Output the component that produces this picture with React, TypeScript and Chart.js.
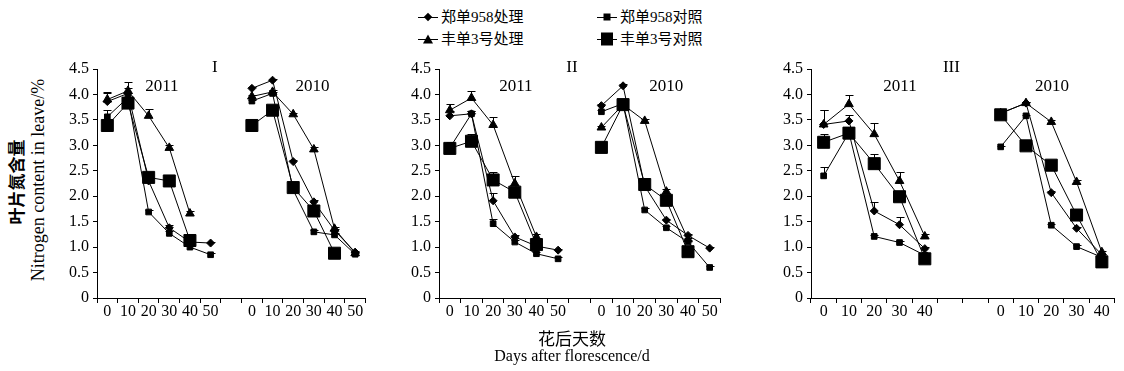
import React, { useEffect, useRef } from 'react';
import { Chart, registerables } from 'chart.js';

Chart.register(...registerables);

// ---------- data ----------
const seriesNames = ['郑单958处理', '郑单958对照', '丰单3号处理', '丰单3号对照'];
const xLabelsSix = ['0', '10', '20', '30', '40', '50', '', '0', '10', '20', '30', '40', '50'];
const xLabelsFive = ['0', '10', '20', '30', '40', '', '', '0', '10', '20', '30', '40'];
const yMin = 0;
const yMax = 4.5;
const yStep = 0.5;

// Panel I
const p1Zd958T = [3.86, 4.02, 2.30, 1.38, 1.10, 1.08, null, 4.12, 4.28, 2.68, 1.89, 1.33, 0.90];
const p1Zd958C = [3.56, 3.94, 1.69, 1.27, 1.00, 0.85, null, 3.87, 4.02, 2.12, 1.30, 1.24, 0.86];
const p1Fd3T = [3.90, 4.07, 3.58, 2.95, 1.66, null, null, 3.96, 4.05, 3.61, 2.92, 1.36, 0.88];
const p1Fd3C = [3.39, 3.83, 2.37, 2.30, 1.13, null, null, 3.39, 3.69, 2.17, 1.71, 0.88, null];
const p1Zd958TErr = [0.17, 0.10, 0.05, 0.05, 0.03, 0.03, null, 0.03, 0.02, 0.03, 0.03, 0.03, 0.02];
const p1Zd958CErr = [0.14, 0.08, 0.04, 0.04, 0.03, 0.03, null, 0.03, 0.03, 0.03, 0.03, 0.03, 0.03];
const p1Fd3TErr = [0.14, 0.18, 0.13, 0.05, 0.05, null, null, 0.03, 0.03, 0.03, 0.04, 0.03, 0.03];
const p1Fd3CErr = [0.10, 0.10, 0.05, 0.05, 0.05, null, null, 0.03, 0.04, 0.04, 0.04, 0.03, null];

// Panel II
const p2Zd958T = [3.58, 3.62, 1.91, 1.20, 1.02, 0.94, null, 3.78, 4.17, 2.20, 1.53, 1.23, 0.98];
const p2Zd958C = [2.95, 3.62, 1.46, 1.10, 0.87, 0.77, null, 3.66, 3.82, 1.73, 1.38, 1.10, 0.60];
const p2Fd3T = [3.69, 3.93, 3.40, 2.25, 1.20, null, null, 3.35, 3.80, 3.48, 2.09, 1.15, null];
const p2Fd3C = [2.94, 3.08, 2.32, 2.08, 1.05, null, null, 2.96, 3.80, 2.23, 1.92, 0.91, null];
const p2Zd958TErr = [0.10, 0.05, 0.15, 0.03, 0.03, 0.03, null, 0.03, 0.03, 0.03, 0.03, 0.03, 0.03];
const p2Zd958CErr = [0.05, 0.05, 0.10, 0.03, 0.03, 0.03, null, 0.03, 0.03, 0.03, 0.03, 0.03, 0.03];
const p2Fd3TErr = [0.12, 0.14, 0.15, 0.15, 0.05, null, null, 0.03, 0.03, 0.03, 0.05, 0.03, null];
const p2Fd3CErr = [0.12, 0.15, 0.15, 0.05, 0.05, null, null, 0.03, 0.03, 0.03, 0.05, 0.03, null];

// Panel III
const p3Zd958T = [3.41, 3.48, 1.71, 1.44, 0.97, null, null, 3.63, 3.83, 2.07, 1.37, 0.85];
const p3Zd958C = [2.40, 3.25, 1.21, 1.09, 0.84, null, null, 2.97, 3.58, 1.43, 1.01, 0.80];
const p3Fd3T = [3.41, 3.81, 3.22, 2.30, 1.21, null, null, 3.63, 3.83, 3.46, 2.28, 0.90];
const p3Fd3C = [3.06, 3.24, 2.64, 1.99, 0.77, null, null, 3.60, 2.99, 2.61, 1.63, 0.71];
const p3Zd958TErr = [0.28, 0.12, 0.18, 0.15, 0.03, null, null, 0.02, 0.02, 0.03, 0.03, 0.02];
const p3Zd958CErr = [0.17, 0.10, 0.03, 0.03, 0.03, null, null, 0.02, 0.02, 0.03, 0.03, 0.02];
const p3Fd3TErr = [0.28, 0.17, 0.22, 0.17, 0.05, null, null, 0.02, 0.03, 0.03, 0.03, 0.02];
const p3Fd3CErr = [0.17, 0.10, 0.19, 0.05, 0.03, null, null, 0.02, 0.02, 0.03, 0.05, 0.02];

// ---------- styling ----------
const SERIF = '"Liberation Serif", "Times New Roman", "Noto Sans CJK SC", serif';
const markerStyles = [
  { pointStyle: 'rectRot', radius: 4 },
  { pointStyle: 'rect', radius: 4 },
  { pointStyle: 'triangle', radius: 5 },
  { pointStyle: 'rect', radius: 8.5 },
];

type Note = { text: string; at: number; row: number };
type Panel = {
  left: number;
  width: number;
  yAxisWidth: number;
  padRight: number;
  labels: string[];
  series: (number | null)[][];
  errors: (number | null)[][];
  notes: Note[];
};

const TOP = 55;
const HEIGHT = 280;
const PAD_TOP = 14;
const X_AXIS_H = 37;

const panels: Panel[] = [
  {
    left: 50, width: 325, yAxisWidth: 47, padRight: 6,
    labels: xLabelsSix,
    series: [p1Zd958T, p1Zd958C, p1Fd3T, p1Fd3C],
    errors: [p1Zd958TErr, p1Zd958CErr, p1Fd3TErr, p1Fd3CErr],
    notes: [
      { text: 'I', at: 5.21, row: 0 },
      { text: '2011', at: 2.64, row: 1 },
      { text: '2010', at: 9.93, row: 1 },
    ],
  },
  {
    left: 395, width: 335, yAxisWidth: 44, padRight: 5,
    labels: xLabelsSix,
    series: [p2Zd958T, p2Zd958C, p2Fd3T, p2Fd3C],
    errors: [p2Zd958TErr, p2Zd958CErr, p2Fd3TErr, p2Fd3CErr],
    notes: [
      { text: 'II', at: 5.64, row: 0 },
      { text: '2011', at: 3.05, row: 1 },
      { text: '2010', at: 10.0, row: 1 },
    ],
  },
  {
    left: 767, width: 357, yAxisWidth: 44, padRight: 6,
    labels: xLabelsFive,
    series: [p3Zd958T, p3Zd958C, p3Fd3T, p3Fd3C],
    errors: [p3Zd958TErr, p3Zd958CErr, p3Fd3TErr, p3Fd3CErr],
    notes: [
      { text: 'III', at: 5.05, row: 0 },
      { text: '2011', at: 3.02, row: 1 },
      { text: '2010', at: 9.03, row: 1 },
    ],
  },
];

function makeErrPlugin(errors: (number | null)[][]) {
  return {
    id: 'errbars',
    afterDatasetsDraw(chart: any) {
      const { ctx, scales } = chart;
      ctx.save();
      ctx.strokeStyle = '#000';
      ctx.lineWidth = 1;
      chart.data.datasets.forEach((ds: any, di: number) => {
        const errs = errors[di] || [];
        ds.data.forEach((v: number | null, i: number) => {
          const e = errs[i];
          if (v == null || e == null) return;
          const x = Math.round(scales.x.getPixelForValue(i)) + 0.5;
          const y0 = scales.y.getPixelForValue(v);
          const y1 = Math.round(scales.y.getPixelForValue(v + e)) + 0.5;
          ctx.beginPath();
          ctx.moveTo(x, y0);
          ctx.lineTo(x, y1);
          ctx.moveTo(x - 4, y1);
          ctx.lineTo(x + 4, y1);
          ctx.stroke();
        });
      });
      ctx.restore();
    },
  };
}

function makeNotePlugin(notes: Note[]) {
  return {
    id: 'notes',
    afterDraw(chart: any) {
      const { ctx, chartArea, scales } = chart;
      ctx.save();
      ctx.fillStyle = '#000';
      ctx.textAlign = 'center';
      ctx.textBaseline = 'middle';
      ctx.font = `17px ${SERIF}`;
      notes.forEach((n) => {
        const x = scales.x.getPixelForValue(n.at);
        const y = chartArea.top + (n.row === 0 ? -1 : 18);
        ctx.fillText(n.text, x, y);
      });
      ctx.restore();
    },
  };
}

function PanelChart({ panel }: { panel: Panel }) {
  const ref = useRef<HTMLCanvasElement | null>(null);
  useEffect(() => {
    if (!ref.current) return;
    const chart = new Chart(ref.current, {
      type: 'line',
      data: {
        labels: panel.labels,
        datasets: panel.series.map((d, i) => ({
          label: seriesNames[i],
          data: d,
          borderColor: '#000',
          backgroundColor: '#000',
          borderWidth: 1,
          pointStyle: markerStyles[i].pointStyle as any,
          pointRadius: markerStyles[i].radius,
          pointBackgroundColor: '#000',
          pointBorderColor: '#000',
          pointBorderWidth: 1,
          spanGaps: false,
          tension: 0,
        })),
      },
      options: {
        animation: false,
        responsive: false,
        maintainAspectRatio: false,
        devicePixelRatio: 1,
        layout: { padding: { top: PAD_TOP, right: panel.padRight, left: 0, bottom: 0 } },
        plugins: { legend: { display: false }, tooltip: { enabled: false } },
        scales: {
          x: {
            type: 'category',
            offset: true,
            grid: { offset: true, drawOnChartArea: false, drawTicks: true, tickLength: 5, color: '#000', lineWidth: 1 },
            border: { display: true, color: '#000', width: 1 },
            ticks: { autoSkip: false, maxRotation: 0, minRotation: 0, padding: -1, color: '#000', font: { family: SERIF, size: 16 } },
            afterFit: (s: any) => { s.height = X_AXIS_H; },
          },
          y: {
            min: yMin,
            max: yMax,
            grid: { drawOnChartArea: false, drawTicks: true, tickLength: 4, color: '#000', lineWidth: 1 },
            border: { display: true, color: '#000', width: 1 },
            ticks: {
              stepSize: yStep,
              padding: 4,
              color: '#000',
              font: { family: SERIF, size: 16 },
              callback: (v: any) => (Number(v) === 0 ? '0' : Number(v).toFixed(1)),
            },
            afterFit: (s: any) => { s.width = panel.yAxisWidth; },
          },
        },
      },
      plugins: [makeErrPlugin(panel.errors), makeNotePlugin(panel.notes)],
    });
    return () => chart.destroy();
  }, [panel]);
  return (
    <canvas
      ref={ref}
      width={panel.width}
      height={HEIGHT}
      style={{ position: 'absolute', left: panel.left, top: TOP, width: panel.width, height: HEIGHT }}
    />
  );
}

function LegendMarker({ kind }: { kind: number }) {
  let shape: React.CSSProperties;
  if (kind === 0) shape = { width: 6, height: 6, background: '#000', transform: 'rotate(45deg)' };
  else if (kind === 1) shape = { width: 7, height: 7, background: '#000' };
  else if (kind === 2) shape = { width: 0, height: 0, borderLeft: '5px solid transparent', borderRight: '5px solid transparent', borderBottom: '9px solid #000' };
  else shape = { width: 12, height: 13, background: '#000' };
  return (
    <div style={{ position: 'relative', width: 20, height: 16 }}>
      <div style={{ position: 'absolute', left: 0, right: 0, top: 8, height: 1, background: '#000' }} />
      <div style={{ position: 'absolute', left: '50%', top: 8, transform: 'translate(-50%, -50%)' }}>
        <div style={shape} />
      </div>
    </div>
  );
}

const legendPos = [
  { x: 418, y: 9 },
  { x: 597, y: 9 },
  { x: 418, y: 31 },
  { x: 597, y: 31 },
];
const legendOrder = [0, 1, 2, 3];

export default function App() {
  return (
    <div style={{ position: 'fixed', left: 0, top: 0, width: 1124, height: 371, background: '#fff', overflow: 'hidden' }}>
      {legendOrder.map((si, k) => (
        <div key={si} style={{ position: 'absolute', left: legendPos[k].x, top: legendPos[k].y, display: 'flex', alignItems: 'center', height: 16 }}>
          <LegendMarker kind={si} />
          <span style={{ marginLeft: 3, fontFamily: SERIF, fontSize: 15, lineHeight: '16px', color: '#000', whiteSpace: 'nowrap' }}>{seriesNames[si]}</span>
        </div>
      ))}
      {panels.map((p, i) => (
        <PanelChart key={i} panel={p} />
      ))}
      <div style={{ position: 'absolute', left: 15, top: 182, transform: 'translate(-50%, -50%) rotate(-90deg)', fontFamily: SERIF, fontSize: 17, fontWeight: 'bold', whiteSpace: 'nowrap', color: '#000' }}>
        叶片氮含量
      </div>
      <div style={{ position: 'absolute', left: 38, top: 180, transform: 'translate(-50%, -50%) rotate(-90deg)', fontFamily: SERIF, fontSize: 18, whiteSpace: 'nowrap', color: '#000' }}>
        Nitrogen content in leave/%
      </div>
      <div style={{ position: 'absolute', left: 572, top: 337, transform: 'translate(-50%, -50%)', fontFamily: SERIF, fontSize: 17, whiteSpace: 'nowrap', color: '#000' }}>
        花后天数
      </div>
      <div style={{ position: 'absolute', left: 572, top: 356, transform: 'translate(-50%, -50%)', fontFamily: SERIF, fontSize: 16, whiteSpace: 'nowrap', color: '#000' }}>
        Days after florescence/d
      </div>
    </div>
  );
}
